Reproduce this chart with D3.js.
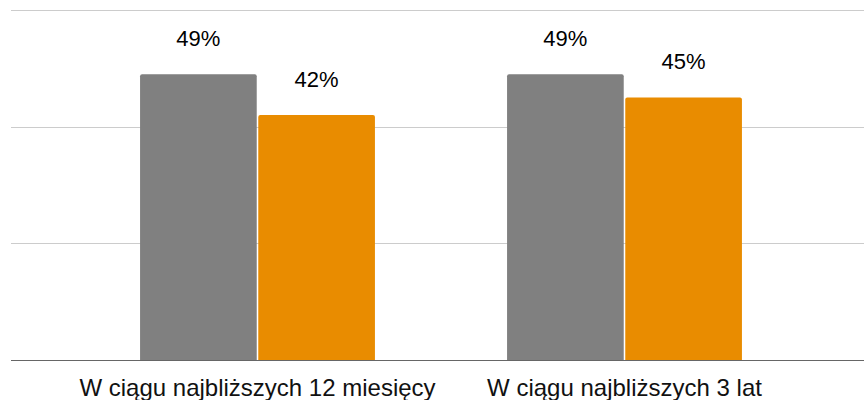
<!DOCTYPE html>
<html>
<head>
<meta charset="utf-8">
<script src="https://cdn.jsdelivr.net/npm/d3@7"></script>
<style>
  body { margin: 0; background: #fff; }
  svg { display: block; font-family: "Liberation Sans", Arial, sans-serif; }
</style>
</head>
<body>
<div id="chart"></div>
<script>
var categories = ["W ciągu najbliższych 12 miesięcy", "W ciągu najbliższych 3 lat"];
var seriesNames = ["A", "B"];
var seriesA = [49, 49];
var seriesB = [42, 45];
var gridTicks = [20, 40, 60];
var colors = ["#808080", "#e98c00"];

var width = 864, height = 400;
var svg = d3.select("#chart").append("svg")
  .attr("width", width)
  .attr("height", height);

var y = d3.scaleLinear().domain([0, 60]).range([360, 10]);

var x0 = d3.scaleBand()
  .domain(categories)
  .range([74, 808])
  .paddingInner(0.36)
  .paddingOuter(0.18);

var x1 = d3.scaleBand()
  .domain(seriesNames)
  .range([0, x0.bandwidth()])
  .paddingInner(0.013);

// gridlines
svg.append("g").selectAll("line")
  .data(gridTicks).enter()
  .append("line")
  .attr("x1", 11).attr("x2", width)
  .attr("y1", function(d) { return Math.round(y(d)) + 0.5; })
  .attr("y2", function(d) { return Math.round(y(d)) + 0.5; })
  .attr("stroke", "#cccccc")
  .attr("stroke-width", 1);

var rows = categories.map(function(c, i) {
  return [{ key: "A", cat: c, value: seriesA[i] }, { key: "B", cat: c, value: seriesB[i] }];
});

var groups = svg.append("g").selectAll("g")
  .data(rows).enter()
  .append("g")
  .attr("transform", function(d) { return "translate(" + x0(d[0].cat) + ",0)"; });

// bars with slightly rounded tops
groups.selectAll("path")
  .data(function(d) { return d; }).enter()
  .append("path")
  .attr("fill", function(d, i) { return colors[i]; })
  .attr("d", function(d) {
    var bx = x1(d.key), bw = x1.bandwidth(), top = y(d.value), bot = y(0), r = 2;
    return "M" + bx + "," + bot +
      "V" + (top + r) + "Q" + bx + "," + top + " " + (bx + r) + "," + top +
      "H" + (bx + bw - r) + "Q" + (bx + bw) + "," + top + " " + (bx + bw) + "," + (top + r) +
      "V" + bot + "Z";
  });

// value labels
groups.selectAll("text")
  .data(function(d) { return d; }).enter()
  .append("text")
  .attr("x", function(d) { return x1(d.key) + x1.bandwidth() / 2; })
  .attr("y", function(d) { return y(d.value) - 28.5; })
  .attr("text-anchor", "middle")
  .attr("font-size", "22px")
  .attr("fill", "#000")
  .attr("stroke", "#fff")
  .attr("stroke-width", 3)
  .attr("stroke-linejoin", "round")
  .attr("paint-order", "stroke")
  .text(function(d) { return d.value + "%"; });

// baseline
svg.append("line")
  .attr("x1", 11).attr("x2", width)
  .attr("y1", y(0) + 0.5).attr("y2", y(0) + 0.5)
  .attr("stroke", "#666666")
  .attr("stroke-width", 1);

// category axis
var xAxis = svg.append("g")
  .attr("transform", "translate(0," + y(0) + ")")
  .call(d3.axisBottom(x0).tickSize(0));
xAxis.select(".domain").remove();
xAxis.selectAll("text")
  .attr("y", 36)
  .attr("dy", 0)
  .attr("font-size", "24px")
  .attr("font-family", "'Liberation Sans', Arial, sans-serif")
  .attr("fill", "#111");
</script>
</body>
</html>
